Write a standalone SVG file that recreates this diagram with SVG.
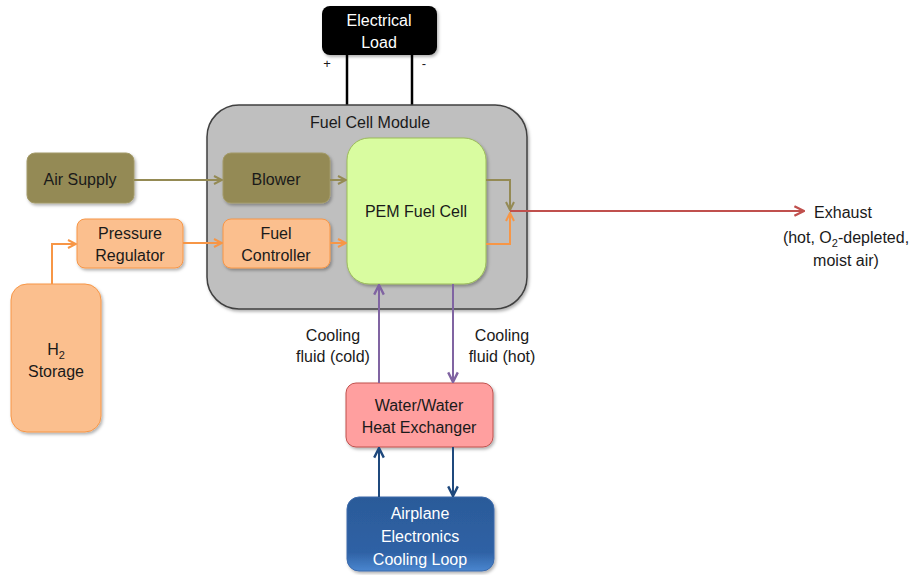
<svg xmlns="http://www.w3.org/2000/svg" width="915" height="575" viewBox="0 0 915 575">
<style>
text{font-family:"Liberation Sans",Arial,sans-serif;font-size:16px;fill:#1a1a1a;text-anchor:middle}
.w{fill:#ffffff}
.ln{fill:none;stroke-width:2}
.ol{stroke:#948a54}.or{stroke:#f79646}.rd{stroke:#c0504d}.pu{stroke:#8064a2}.bl{stroke:#1f497d}
</style>
<defs>
<filter id="sh" x="-10%" y="-10%" width="130%" height="130%"><feDropShadow dx="1.5" dy="2" stdDeviation="1.5" flood-color="#000" flood-opacity="0.3"/></filter>
<linearGradient id="bg" x1="0" y1="0" x2="0" y2="1"><stop offset="0" stop-color="#2b5a99"/><stop offset="0.75" stop-color="#2f62a5"/><stop offset="1" stop-color="#4a86cf"/></linearGradient>
<marker id="mOl" viewBox="0 0 10 10" refX="9" refY="5" markerWidth="10" markerHeight="10" markerUnits="userSpaceOnUse" orient="auto"><path d="M1,1 L9,5 L1,9" fill="none" stroke="#948a54" stroke-width="2"/></marker>
<marker id="mOr" viewBox="0 0 10 10" refX="9" refY="5" markerWidth="10" markerHeight="10" markerUnits="userSpaceOnUse" orient="auto"><path d="M1,1 L9,5 L1,9" fill="none" stroke="#f79646" stroke-width="2"/></marker>
<marker id="mRd" viewBox="0 0 10 10" refX="9" refY="5" markerWidth="12" markerHeight="12" markerUnits="userSpaceOnUse" orient="auto"><path d="M1,1 L9,5 L1,9" fill="none" stroke="#c0504d" stroke-width="2"/></marker>
<marker id="mPu" viewBox="0 0 10 10" refX="9" refY="5" markerWidth="12" markerHeight="12" markerUnits="userSpaceOnUse" orient="auto"><path d="M1,1 L9,5 L1,9" fill="none" stroke="#8064a2" stroke-width="2"/></marker>
<marker id="mBl" viewBox="0 0 10 10" refX="9" refY="5" markerWidth="12" markerHeight="12" markerUnits="userSpaceOnUse" orient="auto"><path d="M1,1 L9,5 L1,9" fill="none" stroke="#1f497d" stroke-width="2"/></marker>
</defs>
<rect width="915" height="575" fill="#ffffff"/>

<g id="load-wires">
<line x1="347" y1="55" x2="347" y2="106" stroke="#000" stroke-width="2.5"/>
<line x1="412" y1="55" x2="412" y2="106" stroke="#000" stroke-width="2.5"/>
</g>

<g id="fuel-cell-module">
<rect x="207" y="105" width="320" height="204" rx="32" fill="#bfbfbf" stroke="#404040" stroke-width="1.5" filter="url(#sh)"/>
<text x="370" y="128">Fuel Cell Module</text>
</g>

<g id="electrical-load">
<rect x="322" y="6" width="115" height="49" rx="8" fill="#000000" filter="url(#sh)"/>
<text class="w" x="379" y="26">Electrical</text>
<text class="w" x="379" y="48">Load</text>
<text x="327" y="68" style="font-size:13px">+</text>
<text x="424" y="68" style="font-size:13px">-</text>
</g>

<g id="air-supply">
<rect x="27" y="153" width="107" height="50" rx="8" fill="#948a54" stroke="#a39a68" filter="url(#sh)"/>
<text x="80" y="185">Air Supply</text>
</g>

<g id="blower">
<rect x="223" y="153" width="107" height="50" rx="8" fill="#948a54" stroke="#a39a68" filter="url(#sh)"/>
<text x="276" y="185">Blower</text>
</g>

<g id="pressure-regulator">
<rect x="77" y="219" width="106" height="49" rx="8" fill="#fbbf8e" stroke="#f79646" filter="url(#sh)"/>
<text x="130" y="239">Pressure</text>
<text x="130" y="261">Regulator</text>
</g>

<g id="fuel-controller">
<rect x="223" y="219" width="107" height="49" rx="8" fill="#fbbf8e" stroke="#f79646" filter="url(#sh)"/>
<text x="276" y="239">Fuel</text>
<text x="276" y="261">Controller</text>
</g>

<g id="h2-storage">
<rect x="11" y="284" width="90" height="148" rx="16" fill="#fbbf8e" stroke="#f79646" filter="url(#sh)"/>
<text x="56" y="355">H<tspan dy="4" style="font-size:11px">2</tspan></text>
<text x="56" y="377">Storage</text>
</g>

<g id="pem-fuel-cell">
<rect x="347" y="138" width="139" height="146" rx="22" fill="#d9fca0" stroke="#9bbb59" filter="url(#sh)"/>
<text x="416" y="217">PEM Fuel Cell</text>
</g>

<g id="heat-exchanger">
<rect x="346" y="383" width="147" height="64" rx="10" fill="#ff9f9f" stroke="#c0504d" filter="url(#sh)"/>
<text x="419" y="411">Water/Water</text>
<text x="419" y="433">Heat Exchanger</text>
</g>

<g id="cooling-loop">
<rect x="347" y="497" width="147" height="74" rx="12" fill="url(#bg)" stroke="#3d6bab" filter="url(#sh)"/>
<text class="w" x="420" y="519">Airplane</text>
<text class="w" x="420" y="542">Electronics</text>
<text class="w" x="420" y="565">Cooling Loop</text>
</g>

<g id="exhaust-label">
<text x="843" y="218">Exhaust</text>
<text x="846" y="243">(hot, O<tspan dy="4" style="font-size:11px">2</tspan><tspan dy="-4">-depleted,</tspan></text>
<text x="846" y="266">moist air)</text>
</g>

<g id="cooling-labels">
<text x="333" y="341">Cooling</text>
<text x="333" y="362">fluid (cold)</text>
<text x="502" y="341">Cooling</text>
<text x="502" y="362">fluid (hot)</text>
</g>

<g id="connectors">
<path class="ln ol" d="M134,180 H222" marker-end="url(#mOl)"/>
<path class="ln ol" d="M330,180 H346" marker-end="url(#mOl)"/>
<path class="ln or" d="M52,284 V244 H76" marker-end="url(#mOr)"/>
<path class="ln or" d="M183,243 H222" marker-end="url(#mOr)"/>
<path class="ln or" d="M330,243 H346" marker-end="url(#mOr)"/>
<path class="ln ol" d="M486,180 H510 V210" marker-end="url(#mOl)"/>
<path class="ln or" d="M486,244 H510 V213" marker-end="url(#mOr)"/>
<path class="ln rd" d="M510,211 H804" marker-end="url(#mRd)"/>
<path class="ln pu" d="M379,383 V285" marker-end="url(#mPu)"/>
<path class="ln pu" d="M453,284 V382" marker-end="url(#mPu)"/>
<path class="ln bl" d="M379,497 V448" marker-end="url(#mBl)"/>
<path class="ln bl" d="M453,447 V496" marker-end="url(#mBl)"/>
</g>
</svg>
